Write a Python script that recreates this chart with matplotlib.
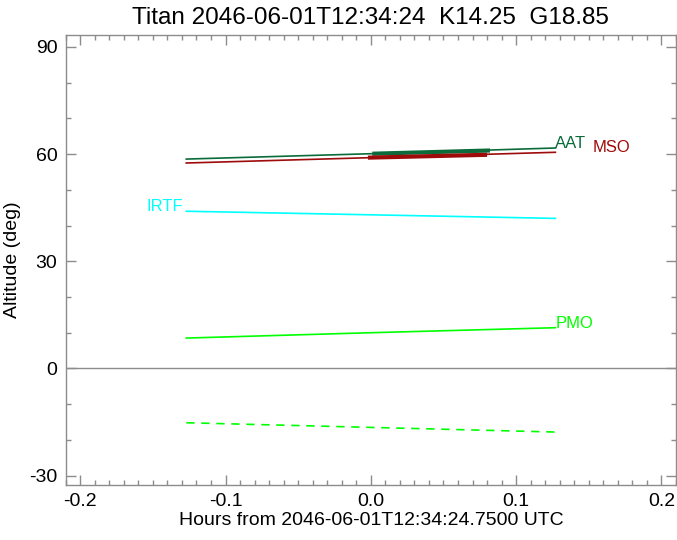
import numpy as np
import matplotlib.pyplot as plt
from matplotlib.ticker import MultipleLocator

plt.rcParams['font.family'] = ['Liberation Sans', 'DejaVu Sans']

# hours from reference time
t = [-0.127, 0.0, 0.127]
aat = [58.6, 60.1, 61.7]
mso = [57.5, 59.0, 60.5]
irtf = [44.0, 43.0, 42.0]
pmo = [8.5, 10.0, 11.4]
pmo_neg = [-15.2, -16.5, -17.8]

# thick segments (observing window)
t_aat_win = [0.001, 0.082]
aat_win = [60.1, 61.0]
t_mso_win = [-0.002, 0.080]
mso_win = [59.0, 59.8]

c_aat = '#0b6b3a'
c_mso = '#9e0b0b'
c_irtf = '#00ffff'
c_pmo = '#00ff00'
gray = '#8c8c8c'

fig = plt.figure(figsize=(6.77, 5.4), dpi=100)
ax = fig.add_axes([0.097, 0.102, 0.9015, 0.833])

ax.axhline(0, color=gray, lw=1)

ax.plot(t, aat, color=c_aat, lw=1.2)
ax.plot(t, mso, color=c_mso, lw=1.2)
ax.plot(t_aat_win, aat_win, color=c_aat, lw=3, solid_capstyle='butt')
ax.plot(t_mso_win, mso_win, color=c_mso, lw=3, solid_capstyle='butt')
ax.plot(t, irtf, color=c_irtf, lw=1.2)
ax.plot(t, pmo, color=c_pmo, lw=1.2)
ax.plot(t, pmo_neg, color=c_pmo, lw=1.2, ls=(0, (5, 4)))

fs = 12
ax.text(t[-1], aat[-1], 'AAT', color=c_aat, fontsize=fs, ha='left', va='baseline')
ax.text(t[-1] + 0.0255, mso[-1], 'MSO', color=c_mso, fontsize=fs, ha='left', va='baseline')
ax.text(t[0] - 0.002, irtf[0], 'IRTF', color=c_irtf, fontsize=fs, ha='right', va='baseline')
ax.text(t[-1], pmo[-1], 'PMO', color=c_pmo, fontsize=fs, ha='left', va='baseline')

ax.set_xlim(-0.21, 0.21)
ax.set_ylim(-32.6, 93.3)
ax.xaxis.set_major_locator(MultipleLocator(0.1))
ax.xaxis.set_minor_locator(MultipleLocator(0.01))
ax.yaxis.set_major_locator(MultipleLocator(30))
ax.yaxis.set_minor_locator(MultipleLocator(10))
ax.set_xticks([-0.2, -0.1, 0.0, 0.1, 0.2])
ax.set_xticklabels(['-0.2', '-0.1', '0.0', '0.1', '0.2'])
ax.set_yticks([-30, 0, 30, 60, 90])
ax.set_yticklabels(['-30', '0', '30', '60', '90'])

ax.tick_params(which='both', direction='in', top=True, right=True, color=gray,
               labelsize=14, labelcolor='black', width=1)
ax.tick_params(which='major', length=7, pad=6)
ax.tick_params(which='minor', length=3.6)
for s in ax.spines.values():
    s.set_color(gray)
    s.set_linewidth(1)

ax.set_xlabel('Hours from 2046-06-01T12:34:24.7500 UTC', fontsize=14, labelpad=1)
ax.set_ylabel('Altitude (deg)', fontsize=14, labelpad=6)
ax.set_title('Titan 2046-06-01T12:34:24  K14.25  G18.85', fontsize=17.5, pad=8)

fig.savefig('out.png', dpi=100)
